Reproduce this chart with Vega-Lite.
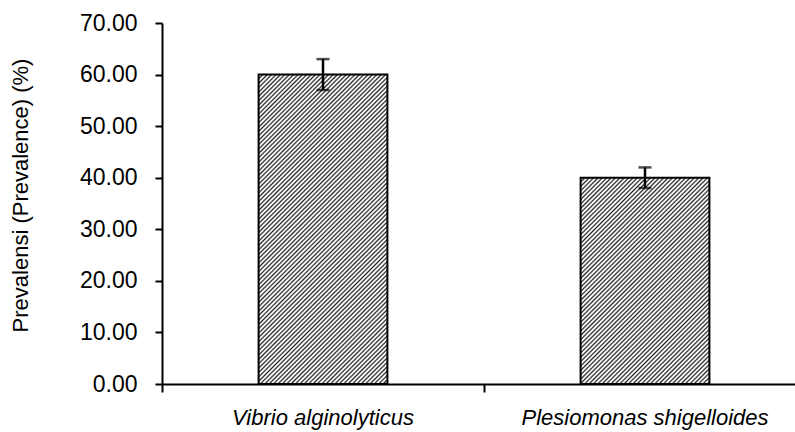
{
  "$schema": "https://vega.github.io/schema/vega-lite/v6.json",
  "width": 633,
  "height": 361,
  "autosize": {"type": "none"},
  "padding": {"left": 162, "top": 23, "right": 0, "bottom": 48},
  "background": "white",
  "config": {
    "view": {"stroke": null},
    "font": "Liberation Sans",
    "axisY": {"grid": false, "domainColor": "black", "domainWidth": 2, "tickColor": "black", "tickWidth": 2, "tickSize": 7,
      "labelFontSize": 23, "labelColor": "black", "labelPadding": 18,
      "titleFontSize": 22, "titleFontWeight": "normal", "titleColor": "black", "titlePadding": 47, "titleY": 172}
  },
  "data": {"values": [
    {"organism": "Vibrio alginolyticus", "prevalence": 60, "lower": 57, "upper": 63},
    {"organism": "Plesiomonas shigelloides", "prevalence": 40, "lower": 38, "upper": 42}
  ]},
  "resolve": {"axis": {"x": "independent"}},
  "layer": [
    {
      "transform": [{"filter": "datum.organism === 'Vibrio alginolyticus'"}],
      "mark": {"type": "bar", "stroke": "black", "strokeWidth": 2, "width": {"band": 0.4},
        "fill": {"gradient": "linear", "x1": 0, "y1": 0, "x2": 0.5025, "y2": 1.2071, "stops": [
{"offset":0,"color":"#222"},{"offset":0.004,"color":"#fff"},{"offset":0.006,"color":"#fff"},
{"offset":0.01,"color":"#222"},{"offset":0.014,"color":"#fff"},{"offset":0.016,"color":"#fff"},
{"offset":0.02,"color":"#222"},{"offset":0.024,"color":"#fff"},{"offset":0.026,"color":"#fff"},
{"offset":0.03,"color":"#222"},{"offset":0.034,"color":"#fff"},{"offset":0.036,"color":"#fff"},
{"offset":0.04,"color":"#222"},{"offset":0.044,"color":"#fff"},{"offset":0.046,"color":"#fff"},
{"offset":0.05,"color":"#222"},{"offset":0.054,"color":"#fff"},{"offset":0.056,"color":"#fff"},
{"offset":0.06,"color":"#222"},{"offset":0.064,"color":"#fff"},{"offset":0.066,"color":"#fff"},
{"offset":0.07,"color":"#222"},{"offset":0.074,"color":"#fff"},{"offset":0.076,"color":"#fff"},
{"offset":0.08,"color":"#222"},{"offset":0.084,"color":"#fff"},{"offset":0.086,"color":"#fff"},
{"offset":0.09,"color":"#222"},{"offset":0.094,"color":"#fff"},{"offset":0.096,"color":"#fff"},
{"offset":0.1,"color":"#222"},{"offset":0.104,"color":"#fff"},{"offset":0.106,"color":"#fff"},
{"offset":0.11,"color":"#222"},{"offset":0.114,"color":"#fff"},{"offset":0.116,"color":"#fff"},
{"offset":0.12,"color":"#222"},{"offset":0.124,"color":"#fff"},{"offset":0.126,"color":"#fff"},
{"offset":0.13,"color":"#222"},{"offset":0.134,"color":"#fff"},{"offset":0.136,"color":"#fff"},
{"offset":0.14,"color":"#222"},{"offset":0.144,"color":"#fff"},{"offset":0.146,"color":"#fff"},
{"offset":0.15,"color":"#222"},{"offset":0.154,"color":"#fff"},{"offset":0.156,"color":"#fff"},
{"offset":0.16,"color":"#222"},{"offset":0.164,"color":"#fff"},{"offset":0.166,"color":"#fff"},
{"offset":0.17,"color":"#222"},{"offset":0.174,"color":"#fff"},{"offset":0.176,"color":"#fff"},
{"offset":0.18,"color":"#222"},{"offset":0.184,"color":"#fff"},{"offset":0.186,"color":"#fff"},
{"offset":0.19,"color":"#222"},{"offset":0.194,"color":"#fff"},{"offset":0.196,"color":"#fff"},
{"offset":0.2,"color":"#222"},{"offset":0.204,"color":"#fff"},{"offset":0.206,"color":"#fff"},
{"offset":0.21,"color":"#222"},{"offset":0.214,"color":"#fff"},{"offset":0.216,"color":"#fff"},
{"offset":0.22,"color":"#222"},{"offset":0.224,"color":"#fff"},{"offset":0.226,"color":"#fff"},
{"offset":0.23,"color":"#222"},{"offset":0.234,"color":"#fff"},{"offset":0.236,"color":"#fff"},
{"offset":0.24,"color":"#222"},{"offset":0.244,"color":"#fff"},{"offset":0.246,"color":"#fff"},
{"offset":0.25,"color":"#222"},{"offset":0.254,"color":"#fff"},{"offset":0.256,"color":"#fff"},
{"offset":0.26,"color":"#222"},{"offset":0.264,"color":"#fff"},{"offset":0.266,"color":"#fff"},
{"offset":0.27,"color":"#222"},{"offset":0.274,"color":"#fff"},{"offset":0.276,"color":"#fff"},
{"offset":0.28,"color":"#222"},{"offset":0.284,"color":"#fff"},{"offset":0.286,"color":"#fff"},
{"offset":0.29,"color":"#222"},{"offset":0.294,"color":"#fff"},{"offset":0.296,"color":"#fff"},
{"offset":0.3,"color":"#222"},{"offset":0.304,"color":"#fff"},{"offset":0.306,"color":"#fff"},
{"offset":0.31,"color":"#222"},{"offset":0.314,"color":"#fff"},{"offset":0.316,"color":"#fff"},
{"offset":0.32,"color":"#222"},{"offset":0.324,"color":"#fff"},{"offset":0.326,"color":"#fff"},
{"offset":0.33,"color":"#222"},{"offset":0.334,"color":"#fff"},{"offset":0.336,"color":"#fff"},
{"offset":0.34,"color":"#222"},{"offset":0.344,"color":"#fff"},{"offset":0.346,"color":"#fff"},
{"offset":0.35,"color":"#222"},{"offset":0.354,"color":"#fff"},{"offset":0.356,"color":"#fff"},
{"offset":0.36,"color":"#222"},{"offset":0.364,"color":"#fff"},{"offset":0.366,"color":"#fff"},
{"offset":0.37,"color":"#222"},{"offset":0.374,"color":"#fff"},{"offset":0.376,"color":"#fff"},
{"offset":0.38,"color":"#222"},{"offset":0.384,"color":"#fff"},{"offset":0.386,"color":"#fff"},
{"offset":0.39,"color":"#222"},{"offset":0.394,"color":"#fff"},{"offset":0.396,"color":"#fff"},
{"offset":0.4,"color":"#222"},{"offset":0.404,"color":"#fff"},{"offset":0.406,"color":"#fff"},
{"offset":0.41,"color":"#222"},{"offset":0.414,"color":"#fff"},{"offset":0.416,"color":"#fff"},
{"offset":0.42,"color":"#222"},{"offset":0.424,"color":"#fff"},{"offset":0.426,"color":"#fff"},
{"offset":0.43,"color":"#222"},{"offset":0.434,"color":"#fff"},{"offset":0.436,"color":"#fff"},
{"offset":0.44,"color":"#222"},{"offset":0.444,"color":"#fff"},{"offset":0.446,"color":"#fff"},
{"offset":0.45,"color":"#222"},{"offset":0.454,"color":"#fff"},{"offset":0.456,"color":"#fff"},
{"offset":0.46,"color":"#222"},{"offset":0.464,"color":"#fff"},{"offset":0.466,"color":"#fff"},
{"offset":0.47,"color":"#222"},{"offset":0.474,"color":"#fff"},{"offset":0.476,"color":"#fff"},
{"offset":0.48,"color":"#222"},{"offset":0.484,"color":"#fff"},{"offset":0.486,"color":"#fff"},
{"offset":0.49,"color":"#222"},{"offset":0.494,"color":"#fff"},{"offset":0.496,"color":"#fff"},
{"offset":0.5,"color":"#222"},{"offset":0.504,"color":"#fff"},{"offset":0.506,"color":"#fff"},
{"offset":0.51,"color":"#222"},{"offset":0.514,"color":"#fff"},{"offset":0.516,"color":"#fff"},
{"offset":0.52,"color":"#222"},{"offset":0.524,"color":"#fff"},{"offset":0.526,"color":"#fff"},
{"offset":0.53,"color":"#222"},{"offset":0.534,"color":"#fff"},{"offset":0.536,"color":"#fff"},
{"offset":0.54,"color":"#222"},{"offset":0.544,"color":"#fff"},{"offset":0.546,"color":"#fff"},
{"offset":0.55,"color":"#222"},{"offset":0.554,"color":"#fff"},{"offset":0.556,"color":"#fff"},
{"offset":0.56,"color":"#222"},{"offset":0.564,"color":"#fff"},{"offset":0.566,"color":"#fff"},
{"offset":0.57,"color":"#222"},{"offset":0.574,"color":"#fff"},{"offset":0.576,"color":"#fff"},
{"offset":0.58,"color":"#222"},{"offset":0.584,"color":"#fff"},{"offset":0.586,"color":"#fff"},
{"offset":0.59,"color":"#222"},{"offset":0.594,"color":"#fff"},{"offset":0.596,"color":"#fff"},
{"offset":0.6,"color":"#222"},{"offset":0.604,"color":"#fff"},{"offset":0.606,"color":"#fff"},
{"offset":0.61,"color":"#222"},{"offset":0.614,"color":"#fff"},{"offset":0.616,"color":"#fff"},
{"offset":0.62,"color":"#222"},{"offset":0.624,"color":"#fff"},{"offset":0.626,"color":"#fff"},
{"offset":0.63,"color":"#222"},{"offset":0.634,"color":"#fff"},{"offset":0.636,"color":"#fff"},
{"offset":0.64,"color":"#222"},{"offset":0.644,"color":"#fff"},{"offset":0.646,"color":"#fff"},
{"offset":0.65,"color":"#222"},{"offset":0.654,"color":"#fff"},{"offset":0.656,"color":"#fff"},
{"offset":0.66,"color":"#222"},{"offset":0.664,"color":"#fff"},{"offset":0.666,"color":"#fff"},
{"offset":0.67,"color":"#222"},{"offset":0.674,"color":"#fff"},{"offset":0.676,"color":"#fff"},
{"offset":0.68,"color":"#222"},{"offset":0.684,"color":"#fff"},{"offset":0.686,"color":"#fff"},
{"offset":0.69,"color":"#222"},{"offset":0.694,"color":"#fff"},{"offset":0.696,"color":"#fff"},
{"offset":0.7,"color":"#222"},{"offset":0.704,"color":"#fff"},{"offset":0.706,"color":"#fff"},
{"offset":0.71,"color":"#222"},{"offset":0.714,"color":"#fff"},{"offset":0.716,"color":"#fff"},
{"offset":0.72,"color":"#222"},{"offset":0.724,"color":"#fff"},{"offset":0.726,"color":"#fff"},
{"offset":0.73,"color":"#222"},{"offset":0.734,"color":"#fff"},{"offset":0.736,"color":"#fff"},
{"offset":0.74,"color":"#222"},{"offset":0.744,"color":"#fff"},{"offset":0.746,"color":"#fff"},
{"offset":0.75,"color":"#222"},{"offset":0.754,"color":"#fff"},{"offset":0.756,"color":"#fff"},
{"offset":0.76,"color":"#222"},{"offset":0.764,"color":"#fff"},{"offset":0.766,"color":"#fff"},
{"offset":0.77,"color":"#222"},{"offset":0.774,"color":"#fff"},{"offset":0.776,"color":"#fff"},
{"offset":0.78,"color":"#222"},{"offset":0.784,"color":"#fff"},{"offset":0.786,"color":"#fff"},
{"offset":0.79,"color":"#222"},{"offset":0.794,"color":"#fff"},{"offset":0.796,"color":"#fff"},
{"offset":0.8,"color":"#222"},{"offset":0.804,"color":"#fff"},{"offset":0.806,"color":"#fff"},
{"offset":0.81,"color":"#222"},{"offset":0.814,"color":"#fff"},{"offset":0.816,"color":"#fff"},
{"offset":0.82,"color":"#222"},{"offset":0.824,"color":"#fff"},{"offset":0.826,"color":"#fff"},
{"offset":0.83,"color":"#222"},{"offset":0.834,"color":"#fff"},{"offset":0.836,"color":"#fff"},
{"offset":0.84,"color":"#222"},{"offset":0.844,"color":"#fff"},{"offset":0.846,"color":"#fff"},
{"offset":0.85,"color":"#222"},{"offset":0.854,"color":"#fff"},{"offset":0.856,"color":"#fff"},
{"offset":0.86,"color":"#222"},{"offset":0.864,"color":"#fff"},{"offset":0.866,"color":"#fff"},
{"offset":0.87,"color":"#222"},{"offset":0.874,"color":"#fff"},{"offset":0.876,"color":"#fff"},
{"offset":0.88,"color":"#222"},{"offset":0.884,"color":"#fff"},{"offset":0.886,"color":"#fff"},
{"offset":0.89,"color":"#222"},{"offset":0.894,"color":"#fff"},{"offset":0.896,"color":"#fff"},
{"offset":0.9,"color":"#222"},{"offset":0.904,"color":"#fff"},{"offset":0.906,"color":"#fff"},
{"offset":0.91,"color":"#222"},{"offset":0.914,"color":"#fff"},{"offset":0.916,"color":"#fff"},
{"offset":0.92,"color":"#222"},{"offset":0.924,"color":"#fff"},{"offset":0.926,"color":"#fff"},
{"offset":0.93,"color":"#222"},{"offset":0.934,"color":"#fff"},{"offset":0.936,"color":"#fff"},
{"offset":0.94,"color":"#222"},{"offset":0.944,"color":"#fff"},{"offset":0.946,"color":"#fff"},
{"offset":0.95,"color":"#222"},{"offset":0.954,"color":"#fff"},{"offset":0.956,"color":"#fff"},
{"offset":0.96,"color":"#222"},{"offset":0.964,"color":"#fff"},{"offset":0.966,"color":"#fff"},
{"offset":0.97,"color":"#222"},{"offset":0.974,"color":"#fff"},{"offset":0.976,"color":"#fff"},
{"offset":0.98,"color":"#222"},{"offset":0.984,"color":"#fff"},{"offset":0.986,"color":"#fff"},
{"offset":0.99,"color":"#222"},{"offset":0.994,"color":"#fff"},{"offset":0.996,"color":"#fff"},
{"offset":1,"color":"#222"}
        ]}},
      "encoding": {
        "x": {"field": "organism", "type": "nominal", "sort": null,
          "scale": {"domain": ["Vibrio alginolyticus", "Plesiomonas shigelloides"], "range": [0, 644], "paddingInner": 0, "paddingOuter": 0},
          "axis": {"orient": "bottom", "bandPosition": 0, "labels": false, "title": null, "domainColor": "black", "domainWidth": 2, "tickColor": "black", "tickWidth": 2, "tickSize": 8}},
        "y": {"field": "prevalence", "type": "quantitative", "title": "Prevalensi (Prevalence) (%)",
          "scale": {"domain": [0, 70], "nice": false},
          "axis": {"values": [0, 10, 20, 30, 40, 50, 60, 70], "format": ".2f"}}
      }
    },
    {
      "transform": [{"filter": "datum.organism === 'Plesiomonas shigelloides'"}],
      "mark": {"type": "bar", "stroke": "black", "strokeWidth": 2, "width": {"band": 0.4},
        "fill": {"gradient": "linear", "x1": 0, "y1": 0, "x2": 0.763, "y2": 1.2222, "stops": [
{"offset":0,"color":"#222"},{"offset":0.005,"color":"#fff"},{"offset":0.0075,"color":"#fff"},
{"offset":0.0125,"color":"#222"},{"offset":0.0175,"color":"#fff"},{"offset":0.02,"color":"#fff"},
{"offset":0.025,"color":"#222"},{"offset":0.03,"color":"#fff"},{"offset":0.0325,"color":"#fff"},
{"offset":0.0375,"color":"#222"},{"offset":0.0425,"color":"#fff"},{"offset":0.045,"color":"#fff"},
{"offset":0.05,"color":"#222"},{"offset":0.055,"color":"#fff"},{"offset":0.0575,"color":"#fff"},
{"offset":0.0625,"color":"#222"},{"offset":0.0675,"color":"#fff"},{"offset":0.07,"color":"#fff"},
{"offset":0.075,"color":"#222"},{"offset":0.08,"color":"#fff"},{"offset":0.0825,"color":"#fff"},
{"offset":0.0875,"color":"#222"},{"offset":0.0925,"color":"#fff"},{"offset":0.095,"color":"#fff"},
{"offset":0.1,"color":"#222"},{"offset":0.105,"color":"#fff"},{"offset":0.1075,"color":"#fff"},
{"offset":0.1125,"color":"#222"},{"offset":0.1175,"color":"#fff"},{"offset":0.12,"color":"#fff"},
{"offset":0.125,"color":"#222"},{"offset":0.13,"color":"#fff"},{"offset":0.1325,"color":"#fff"},
{"offset":0.1375,"color":"#222"},{"offset":0.1425,"color":"#fff"},{"offset":0.145,"color":"#fff"},
{"offset":0.15,"color":"#222"},{"offset":0.155,"color":"#fff"},{"offset":0.1575,"color":"#fff"},
{"offset":0.1625,"color":"#222"},{"offset":0.1675,"color":"#fff"},{"offset":0.17,"color":"#fff"},
{"offset":0.175,"color":"#222"},{"offset":0.18,"color":"#fff"},{"offset":0.1825,"color":"#fff"},
{"offset":0.1875,"color":"#222"},{"offset":0.1925,"color":"#fff"},{"offset":0.195,"color":"#fff"},
{"offset":0.2,"color":"#222"},{"offset":0.205,"color":"#fff"},{"offset":0.2075,"color":"#fff"},
{"offset":0.2125,"color":"#222"},{"offset":0.2175,"color":"#fff"},{"offset":0.22,"color":"#fff"},
{"offset":0.225,"color":"#222"},{"offset":0.23,"color":"#fff"},{"offset":0.2325,"color":"#fff"},
{"offset":0.2375,"color":"#222"},{"offset":0.2425,"color":"#fff"},{"offset":0.245,"color":"#fff"},
{"offset":0.25,"color":"#222"},{"offset":0.255,"color":"#fff"},{"offset":0.2575,"color":"#fff"},
{"offset":0.2625,"color":"#222"},{"offset":0.2675,"color":"#fff"},{"offset":0.27,"color":"#fff"},
{"offset":0.275,"color":"#222"},{"offset":0.28,"color":"#fff"},{"offset":0.2825,"color":"#fff"},
{"offset":0.2875,"color":"#222"},{"offset":0.2925,"color":"#fff"},{"offset":0.295,"color":"#fff"},
{"offset":0.3,"color":"#222"},{"offset":0.305,"color":"#fff"},{"offset":0.3075,"color":"#fff"},
{"offset":0.3125,"color":"#222"},{"offset":0.3175,"color":"#fff"},{"offset":0.32,"color":"#fff"},
{"offset":0.325,"color":"#222"},{"offset":0.33,"color":"#fff"},{"offset":0.3325,"color":"#fff"},
{"offset":0.3375,"color":"#222"},{"offset":0.3425,"color":"#fff"},{"offset":0.345,"color":"#fff"},
{"offset":0.35,"color":"#222"},{"offset":0.355,"color":"#fff"},{"offset":0.3575,"color":"#fff"},
{"offset":0.3625,"color":"#222"},{"offset":0.3675,"color":"#fff"},{"offset":0.37,"color":"#fff"},
{"offset":0.375,"color":"#222"},{"offset":0.38,"color":"#fff"},{"offset":0.3825,"color":"#fff"},
{"offset":0.3875,"color":"#222"},{"offset":0.3925,"color":"#fff"},{"offset":0.395,"color":"#fff"},
{"offset":0.4,"color":"#222"},{"offset":0.405,"color":"#fff"},{"offset":0.4075,"color":"#fff"},
{"offset":0.4125,"color":"#222"},{"offset":0.4175,"color":"#fff"},{"offset":0.42,"color":"#fff"},
{"offset":0.425,"color":"#222"},{"offset":0.43,"color":"#fff"},{"offset":0.4325,"color":"#fff"},
{"offset":0.4375,"color":"#222"},{"offset":0.4425,"color":"#fff"},{"offset":0.445,"color":"#fff"},
{"offset":0.45,"color":"#222"},{"offset":0.455,"color":"#fff"},{"offset":0.4575,"color":"#fff"},
{"offset":0.4625,"color":"#222"},{"offset":0.4675,"color":"#fff"},{"offset":0.47,"color":"#fff"},
{"offset":0.475,"color":"#222"},{"offset":0.48,"color":"#fff"},{"offset":0.4825,"color":"#fff"},
{"offset":0.4875,"color":"#222"},{"offset":0.4925,"color":"#fff"},{"offset":0.495,"color":"#fff"},
{"offset":0.5,"color":"#222"},{"offset":0.505,"color":"#fff"},{"offset":0.5075,"color":"#fff"},
{"offset":0.5125,"color":"#222"},{"offset":0.5175,"color":"#fff"},{"offset":0.52,"color":"#fff"},
{"offset":0.525,"color":"#222"},{"offset":0.53,"color":"#fff"},{"offset":0.5325,"color":"#fff"},
{"offset":0.5375,"color":"#222"},{"offset":0.5425,"color":"#fff"},{"offset":0.545,"color":"#fff"},
{"offset":0.55,"color":"#222"},{"offset":0.555,"color":"#fff"},{"offset":0.5575,"color":"#fff"},
{"offset":0.5625,"color":"#222"},{"offset":0.5675,"color":"#fff"},{"offset":0.57,"color":"#fff"},
{"offset":0.575,"color":"#222"},{"offset":0.58,"color":"#fff"},{"offset":0.5825,"color":"#fff"},
{"offset":0.5875,"color":"#222"},{"offset":0.5925,"color":"#fff"},{"offset":0.595,"color":"#fff"},
{"offset":0.6,"color":"#222"},{"offset":0.605,"color":"#fff"},{"offset":0.6075,"color":"#fff"},
{"offset":0.6125,"color":"#222"},{"offset":0.6175,"color":"#fff"},{"offset":0.62,"color":"#fff"},
{"offset":0.625,"color":"#222"},{"offset":0.63,"color":"#fff"},{"offset":0.6325,"color":"#fff"},
{"offset":0.6375,"color":"#222"},{"offset":0.6425,"color":"#fff"},{"offset":0.645,"color":"#fff"},
{"offset":0.65,"color":"#222"},{"offset":0.655,"color":"#fff"},{"offset":0.6575,"color":"#fff"},
{"offset":0.6625,"color":"#222"},{"offset":0.6675,"color":"#fff"},{"offset":0.67,"color":"#fff"},
{"offset":0.675,"color":"#222"},{"offset":0.68,"color":"#fff"},{"offset":0.6825,"color":"#fff"},
{"offset":0.6875,"color":"#222"},{"offset":0.6925,"color":"#fff"},{"offset":0.695,"color":"#fff"},
{"offset":0.7,"color":"#222"},{"offset":0.705,"color":"#fff"},{"offset":0.7075,"color":"#fff"},
{"offset":0.7125,"color":"#222"},{"offset":0.7175,"color":"#fff"},{"offset":0.72,"color":"#fff"},
{"offset":0.725,"color":"#222"},{"offset":0.73,"color":"#fff"},{"offset":0.7325,"color":"#fff"},
{"offset":0.7375,"color":"#222"},{"offset":0.7425,"color":"#fff"},{"offset":0.745,"color":"#fff"},
{"offset":0.75,"color":"#222"},{"offset":0.755,"color":"#fff"},{"offset":0.7575,"color":"#fff"},
{"offset":0.7625,"color":"#222"},{"offset":0.7675,"color":"#fff"},{"offset":0.77,"color":"#fff"},
{"offset":0.775,"color":"#222"},{"offset":0.78,"color":"#fff"},{"offset":0.7825,"color":"#fff"},
{"offset":0.7875,"color":"#222"},{"offset":0.7925,"color":"#fff"},{"offset":0.795,"color":"#fff"},
{"offset":0.8,"color":"#222"},{"offset":0.805,"color":"#fff"},{"offset":0.8075,"color":"#fff"},
{"offset":0.8125,"color":"#222"},{"offset":0.8175,"color":"#fff"},{"offset":0.82,"color":"#fff"},
{"offset":0.825,"color":"#222"},{"offset":0.83,"color":"#fff"},{"offset":0.8325,"color":"#fff"},
{"offset":0.8375,"color":"#222"},{"offset":0.8425,"color":"#fff"},{"offset":0.845,"color":"#fff"},
{"offset":0.85,"color":"#222"},{"offset":0.855,"color":"#fff"},{"offset":0.8575,"color":"#fff"},
{"offset":0.8625,"color":"#222"},{"offset":0.8675,"color":"#fff"},{"offset":0.87,"color":"#fff"},
{"offset":0.875,"color":"#222"},{"offset":0.88,"color":"#fff"},{"offset":0.8825,"color":"#fff"},
{"offset":0.8875,"color":"#222"},{"offset":0.8925,"color":"#fff"},{"offset":0.895,"color":"#fff"},
{"offset":0.9,"color":"#222"},{"offset":0.905,"color":"#fff"},{"offset":0.9075,"color":"#fff"},
{"offset":0.9125,"color":"#222"},{"offset":0.9175,"color":"#fff"},{"offset":0.92,"color":"#fff"},
{"offset":0.925,"color":"#222"},{"offset":0.93,"color":"#fff"},{"offset":0.9325,"color":"#fff"},
{"offset":0.9375,"color":"#222"},{"offset":0.9425,"color":"#fff"},{"offset":0.945,"color":"#fff"},
{"offset":0.95,"color":"#222"},{"offset":0.955,"color":"#fff"},{"offset":0.9575,"color":"#fff"},
{"offset":0.9625,"color":"#222"},{"offset":0.9675,"color":"#fff"},{"offset":0.97,"color":"#fff"},
{"offset":0.975,"color":"#222"},{"offset":0.98,"color":"#fff"},{"offset":0.9825,"color":"#fff"},
{"offset":0.9875,"color":"#222"},{"offset":0.9925,"color":"#fff"},{"offset":0.995,"color":"#fff"},
{"offset":1,"color":"#222"}
        ]}},
      "encoding": {
        "x": {"field": "organism", "type": "nominal", "sort": null, "axis": null},
        "y": {"field": "prevalence", "type": "quantitative", "title": "Prevalensi (Prevalence) (%)",
          "axis": {"values": [0, 10, 20, 30, 40, 50, 60, 70], "format": ".2f"}}
      }
    },
    {
      "mark": {"type": "rule", "color": "black", "strokeWidth": 2.5},
      "encoding": {
        "x": {"field": "organism", "type": "nominal", "sort": null,
          "axis": {"orient": "bottom", "domain": false, "ticks": false, "title": null, "labelAngle": 0, "labelLimit": 0, "labelFontSize": 22, "labelFontStyle": "italic", "labelColor": "black", "labelPadding": 23}},
        "y": {"field": "lower", "type": "quantitative", "title": "Prevalensi (Prevalence) (%)",
          "axis": {"values": [0, 10, 20, 30, 40, 50, 60, 70], "format": ".2f"}},
        "y2": {"field": "upper"}
      }
    },
    {
      "mark": {"type": "tick", "color": "black", "thickness": 2.5, "size": 13, "orient": "horizontal"},
      "encoding": {
        "x": {"field": "organism", "type": "nominal", "sort": null, "axis": null},
        "y": {"field": "lower", "type": "quantitative", "title": "Prevalensi (Prevalence) (%)",
          "axis": {"values": [0, 10, 20, 30, 40, 50, 60, 70], "format": ".2f"}}
      }
    },
    {
      "mark": {"type": "tick", "color": "black", "thickness": 2.5, "size": 13, "orient": "horizontal"},
      "encoding": {
        "x": {"field": "organism", "type": "nominal", "sort": null, "axis": null},
        "y": {"field": "upper", "type": "quantitative", "title": "Prevalensi (Prevalence) (%)",
          "axis": {"values": [0, 10, 20, 30, 40, 50, 60, 70], "format": ".2f"}}
      }
    }
  ]
}
